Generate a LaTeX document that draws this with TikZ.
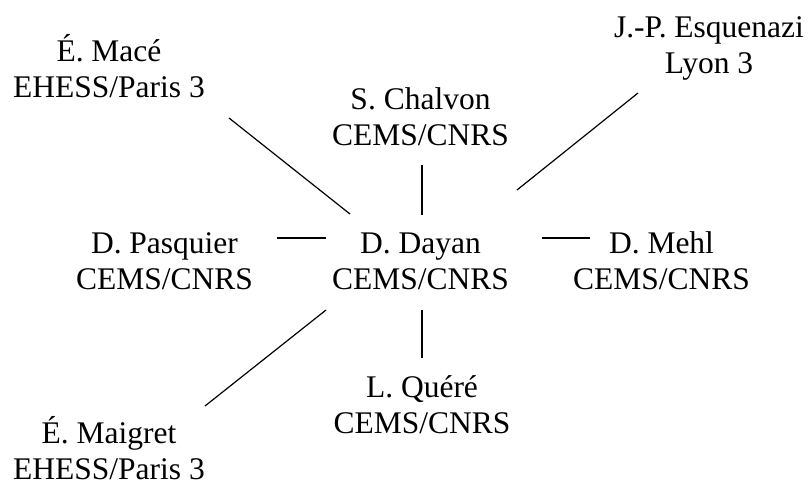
\documentclass[tikz,border=0pt]{standalone}
\usepackage{fontspec}
\setmainfont{Liberation Serif}
\usetikzlibrary{calc}
\newcommand\lnx[1]{\smash{#1}\strut}
\begin{document}
\begin{tikzpicture}[x=1pt,y=-1pt,
  person/.style={align=center,inner sep=0pt,outer sep=0pt,font={\fontsize{31.5}{36.6}\selectfont}},
  link/.style={line width=1.2pt,black}]
\useasboundingbox (0,0) rectangle (809,483);
\node[person] (dayan) at (420.5,264) {\lnx{D. Dayan}\\\lnx{CEMS/CNRS}};
\node[person] (chal) at (420.5,120) {\lnx{S. Chalvon}\\\lnx{CEMS/CNRS}};
\node[person] (mace) at (109,72) {\lnx{É. Macé}\\\lnx{EHESS/Paris 3}};
\node[person] (esq) at (709,48) {\lnx{J.-P. Esquenazi}\\\lnx{Lyon 3}};
\node[person] (pasq) at (164.5,264) {\lnx{D. Pasquier}\\\lnx{CEMS/CNRS}};
\node[person] (mehl) at (661.5,264) {\lnx{D. Mehl}\\\lnx{CEMS/CNRS}};
\node[person] (quere) at (422,408) {\lnx{L. Quéré}\\\lnx{CEMS/CNRS}};
\node[person] (maig) at (109,454) {\lnx{É. Maigret}\\\lnx{EHESS/Paris 3}};
\draw[link] ([shift={(120,46)}]mace.center) -- ([shift={(-70.5,-50)}]dayan.center);
\draw[link] ([shift={(1.5,45)}]chal.center) -- ([shift={(1.5,-49)}]dayan.center);
\draw[link] ([shift={(-71,45)}]esq.center) -- ([shift={(96.5,-74)}]dayan.center);
\draw[link] ([shift={(112.5,-26)}]pasq.center) -- ([shift={(-94.5,-26)}]dayan.center);
\draw[link] ([shift={(-71.5,-26)}]mehl.center) -- ([shift={(121.5,-26)}]dayan.center);
\draw[link] ([shift={(0,-50)}]quere.center) -- ([shift={(1.5,46)}]dayan.center);
\draw[link] ([shift={(96,-48)}]maig.center) -- ([shift={(-94.5,46)}]dayan.center);
\end{tikzpicture}
\end{document}
